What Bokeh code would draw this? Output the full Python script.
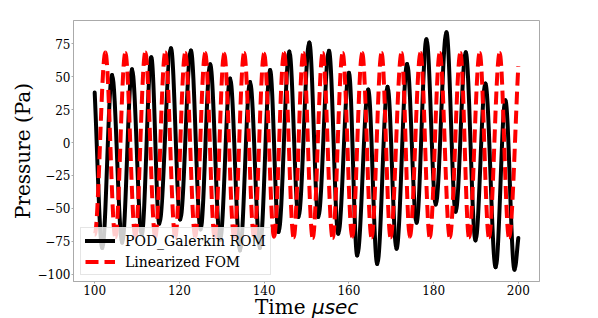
import numpy as np
from bokeh.plotting import figure
from bokeh.layouts import column
from bokeh.models import Legend, LegendItem, FixedTicker, ColumnDataSource, Range1d, Div
from bokeh.embed import file_html
from bokeh.resources import INLINE

# ---- data (extrema of each curve, plus start/end points) ----
# POD_Galerkin ROM (black): start, alternating trough/peak ..., end
rom_t = [100.0, 101.8, 104.10, 106.5, 108.81, 111.1, 113.36, 115.25, 118.00, 120.19,
         122.71, 125.0, 127.26, 129.6, 131.97, 134.3, 136.68, 139.0, 141.40, 143.4,
         145.95, 148.1, 150.66, 152.78, 155.30, 157.5, 160.01, 161.97, 164.56, 166.7,
         169.13, 171.25, 173.75, 175.97, 178.32, 180.5, 183.03, 185.2, 187.58, 189.9,
         192.22, 194.65, 196.94, 199.1, 200.0]
rom_p = [38, -80, 51.3, -76, 55.6, -70, 64.8, -61.6, 71.7, -58.5,
         69.9, -66, 59.4, -74, 48.7, -82, 46, -80, 55.2, -67.9,
         69.1, -56.5, 76, -56.5, 69.7, -69.2, 53.1, -85.8, 40.3, -92.2,
         42.4, -80.7, 59.7, -60.8, 78.5, -47.1, 83.7, -52.6, 68.6, -74.3,
         44.9, -94.7, 32.2, -96.5, -72.5]

# Linearized FOM (red dashed): start trough, alternating peak/trough ..., end
fom_t = [100.0, 102.52, 104.88, 107.23, 109.59, 111.95, 114.30, 116.66, 119.01, 121.37,
         123.72, 126.08, 128.32, 130.56, 132.91, 135.27, 137.62, 139.98, 142.34, 144.70,
         146.97, 149.25, 151.46, 153.82, 156.17, 158.53, 160.79, 163.15, 165.36, 167.72,
         169.84, 172.43, 174.39, 176.91, 179.10, 181.46, 183.82, 186.33, 188.36, 190.88,
         193.07, 195.59, 197.79, 200.0]
fom_p = [-70, 68.5, -72, 68, -71.5, 68.5, -72, 68.5, -72, 68,
         -71.5, 68, -72, 67.5, -72, 68, -72, 67.5, -71.5, 68,
         -72, 68, -72.5, 68, -72.5, 68, -71.5, 68, -72, 68,
         -72, 68, -71.5, 68, -72, 68, -72, 68, -72, 68,
         -72, 68, -72, 58]

x_ticks = [100, 120, 140, 160, 180, 200]
y_ticks = [-100, -75, -50, -25, 0, 25, 50, 75]
series_labels = ["POD_Galerkin ROM", "Linearized FOM"]
x_label = ["Time", "\u03bcsec"]
y_label = "Pressure (Pa)"

assert len(rom_t) == len(rom_p) and len(fom_t) == len(fom_p)

C = 0.3634  # cubic Bezier handle for a half-cosine between extrema


def segments(t, v, start_ext, end_ext):
    t = np.asarray(t, float)
    v = np.asarray(v, float)
    x0, x1, y0, y1 = t[:-1], t[1:], v[:-1], v[1:]
    dt = x1 - x0
    cx0 = x0 + C * dt
    cy0 = y0.copy()
    cx1 = x1 - C * dt
    cy1 = y1.copy()
    if not start_ext:
        cx0[0] = x0[0] + dt[0] / 3
        cy0[0] = y0[0] + (y1[0] - y0[0]) / 3
    if not end_ext:
        cx1[-1] = x1[-1] - dt[-1] / 3
        cy1[-1] = y1[-1] - (y1[-1] - y0[-1]) / 3
    return ColumnDataSource(dict(x0=x0, y0=y0, x1=x1, y1=y1, cx0=cx0, cy0=cy0, cx1=cx1, cy1=cy1))


# matplotlib-like 5% margins
all_t = rom_t + fom_t
all_p = rom_p + fom_p
tx = max(all_t) - min(all_t)
py = max(all_p) - min(all_p)
x_range = Range1d(min(all_t) - 0.05 * tx, max(all_t) + 0.05 * tx)
y_range = Range1d(min(all_p) - 0.05 * py, max(all_p) + 0.05 * py)

p = figure(width=598, height=298, x_range=x_range, y_range=y_range,
           output_backend="svg", toolbar_location=None,
           min_border_left=73, min_border_right=59, min_border_top=20, min_border_bottom=17)
p.background_fill_color = "white"
p.border_fill_color = "white"
p.outline_line_color = "#aaaaaa"
p.xgrid.visible = False
p.ygrid.visible = False

p.xaxis.ticker = FixedTicker(ticks=x_ticks, minor_ticks=[])
p.yaxis.ticker = FixedTicker(ticks=y_ticks, minor_ticks=[])
p.yaxis.major_label_overrides = {v: (("\u2212" + str(abs(v))) if v < 0 else str(v)) for v in y_ticks}
for ax in (p.xaxis, p.yaxis):
    ax.axis_line_color = "#aaaaaa"
    ax.major_tick_line_color = "#aaaaaa"
    ax.major_tick_out = 2
    ax.major_tick_in = 0
    ax.minor_tick_line_color = None
    ax.major_label_text_font = "DejaVu Serif"
    ax.major_label_text_font_size = "12px"
    ax.major_label_text_color = "black"
    ax.major_label_standoff = 1

p.yaxis.axis_label = y_label
p.yaxis.axis_label_text_font = "DejaVu Serif"
p.yaxis.axis_label_text_font_size = "20px"
p.yaxis.axis_label_text_font_style = "normal"
p.yaxis.axis_label_text_color = "black"
p.yaxis.axis_label_standoff = 0

# curves
src_rom = segments(rom_t, rom_p, False, False)
src_fom = segments(fom_t, fom_p, True, False)
r_rom = p.bezier(x0="x0", y0="y0", x1="x1", y1="y1", cx0="cx0", cy0="cy0", cx1="cx1", cy1="cy1",
                 source=src_rom, line_color="black", line_width=4, line_cap="round")
r_fom = p.bezier(x0="x0", y0="y0", x1="x1", y1="y1", cx0="cx0", cy0="cy0", cx1="cx1", cy1="cy1",
                 source=src_fom, line_color="red", line_width=4, line_dash="13 6")

legend = Legend(items=[LegendItem(label=series_labels[0], renderers=[r_rom], index=0),
                       LegendItem(label=series_labels[1], renderers=[r_fom], index=0)],
                location=(7, 6), orientation="vertical")
legend.label_text_font = "DejaVu Serif"
legend.label_text_font_size = "14px"
legend.label_text_color = "black"
legend.glyph_width = 30
legend.glyph_height = 17
legend.label_height = 17
legend.label_standoff = 10
legend.spacing = 4
legend.padding = 4
legend.margin = 0
legend.border_line_color = "#cccccc"
legend.border_line_width = 1
legend.background_fill_color = "white"
legend.background_fill_alpha = 0.8
p.add_layout(legend, "center")

# x-axis title: "Time" (serif) + "μsec" (italic sans, like matplotlib mathtext)
xlabel_html = (
    '<span style="font-family:\'DejaVu Serif\';">%s </span>'
    '<span style="font-family:\'DejaVu Sans\';font-style:italic;">%s</span>' % (x_label[0], x_label[1])
)
q = Div(text=xlabel_html, width=598, height=20, margin=(0, 0, 0, 0),
        styles={"font-size": "20px", "line-height": "19px", "color": "black",
                "white-space": "nowrap", "text-indent": "255px", "overflow": "visible"})

layout = column(p, q, spacing=0)
open("out.html", "w").write(file_html(layout, INLINE))
